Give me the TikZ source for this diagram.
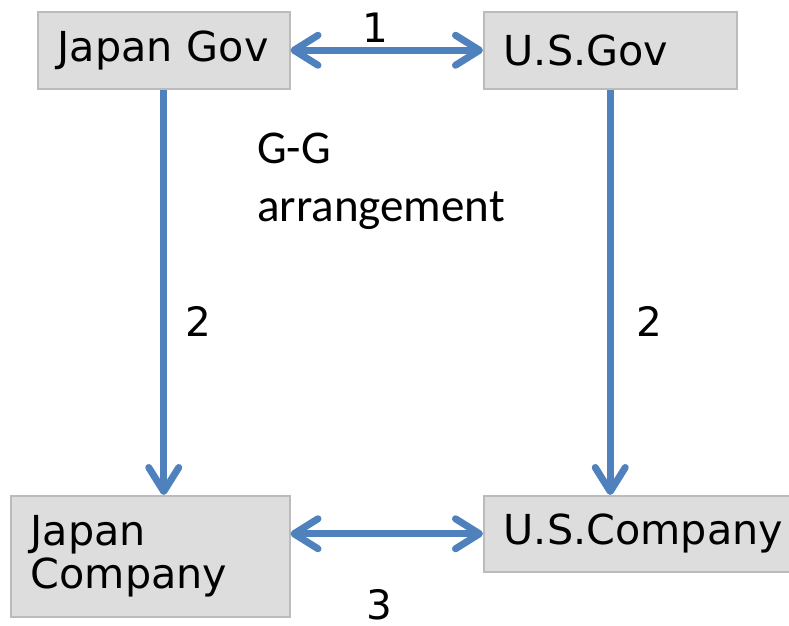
\documentclass[tikz,border=0pt]{standalone}
\usepackage{fontspec}
\setmainfont{DejaVu Sans}
\newfontfamily\carlito{Carlito}
\usetikzlibrary{arrows.meta}
\definecolor{boxfill}{HTML}{DDDDDD}
\definecolor{boxline}{HTML}{BBBBBB}
\definecolor{linkblue}{HTML}{4F81BD}

\begin{document}
\begin{tikzpicture}[x=1pt,y=-1pt,
  party/.style={draw=boxline,fill=boxfill,line width=1.5pt,anchor=north west,inner xsep=20pt,inner ysep=0pt,align=left,font=\fontsize{41.3}{43}\selectfont},
  link/.style={line width=7pt,draw=linkblue,{Straight Barb[length=24pt,width=30pt,round]}-{Straight Barb[length=24pt,width=30pt,round]}},
  flow/.style={line width=7pt,draw=linkblue,-{Straight Barb[length=24pt,width=30pt,round]}},
  num/.style={font=\fontsize{40.5}{44}\selectfont}]
\useasboundingbox (0,0) rectangle (789,625);

% Governments
\node[party,text width=212pt,minimum height=77pt] (jgov) at (37,11) {Japan Gov};
\node[party,text width=213pt,minimum height=77pt] (usgov) at (483,11) {U.S.Gov};

% Companies
\node[party,text width=239pt,minimum height=121pt] (jcomp) at (10,495) {Japan\\Company};
\node[party,text width=280pt,minimum height=76pt] (uscomp) at (483,495) {U.S.Company};

% Links
\draw[link] (jgov.east) -- (usgov.west);
\draw[flow] (jgov.south) -- (jgov.south |- jcomp.north);
\draw[flow] (usgov.south) -- (usgov.south |- uscomp.north);
\draw[link] (uscomp.west -| jcomp.east) -- (uscomp.west);

% Labels
\node[num] (n1) at (375,28) {1};
\node[num] (n2l) at (198,321) {2};
\node[num] (n2r) at (649,321) {2};
\node[num] (n3) at (379,605) {3};
\node[align=left,anchor=north west,inner sep=0pt,font=\carlito\fontsize{47}{58}\selectfont] (gg) at (257,133) {G-G\\arrangement};
\end{tikzpicture}
\end{document}
